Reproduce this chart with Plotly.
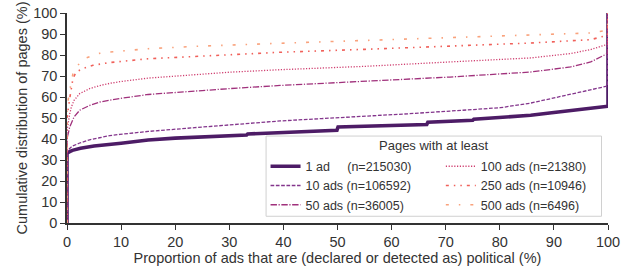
import plotly.graph_objects as go

NB = "\u00a0"
series_names = [
    "1 ad" + NB * 5 + "(n=215030)",
    "10 ads (n=106592)",
    "50 ads (n=36005)",
    "100 ads (n=21380)",
    "250 ads (n=10946)",
    "500 ads (n=6496)",
]
legend_title = "Pages with at least"

x_1 = [0, 0, 0.5, 1, 2.5, 5, 10, 15, 20, 25, 30, 33.2, 33.4, 40, 45, 49.9, 50.1, 55, 60, 66.5, 66.7, 70, 75, 75.2, 80, 85.7, 90, 95, 99.9, 100, 100]
y_1 = [0, 33.3, 34.0, 34.6, 35.6, 36.7, 38.0, 39.5, 40.4, 41.1, 41.6, 41.9, 42.4, 43.0, 43.6, 44.2, 45.7, 46.1, 46.4, 46.9, 48.0, 48.3, 48.9, 49.4, 50.3, 51.3, 52.6, 54.2, 55.6, 55.6, 100]

x_10 = [0, 0, 0.5, 1, 2.35, 4, 6, 7.9, 9.75, 15, 23.6, 30, 39.4, 47, 55.1, 63, 70.8, 80.1, 85.7, 89.4, 93.1, 96.8, 99.9, 100]
y_10 = [0, 33.8, 35.5, 36.6, 38.1, 39.5, 40.6, 41.6, 42.2, 43.6, 45.4, 46.8, 48.6, 49.7, 50.8, 52.0, 53.3, 54.9, 57.1, 59.2, 61.3, 63.5, 65.2, 100]

x_50 = [0, 0, 0.5, 1.3, 2.35, 4.2, 6, 7.9, 9.75, 15, 23.6, 30, 39.4, 55.1, 70.8, 85.7, 93.1, 96.8, 99.9, 100]
y_50 = [0, 40, 45.7, 50.5, 53.7, 56.0, 57.6, 58.6, 59.3, 61.2, 62.9, 64.0, 65.5, 67.5, 69.5, 71.9, 74.3, 76.7, 80.7, 100]

x_100 = [0, 0, 0.5, 0.8, 1.3, 2.35, 4.2, 6, 7.9, 9.75, 15, 23.6, 30, 39.4, 55.1, 70.8, 85.7, 93.1, 96.8, 99.9, 100]
y_100 = [0, 44, 52.0, 55.2, 58.4, 61.6, 64.0, 65.4, 66.5, 67.3, 69.0, 70.7, 71.8, 73.0, 74.6, 76.7, 78.6, 80.7, 82.6, 85.1, 100]

x_250 = [0, 0, 0.5, 0.8, 1.1, 1.7, 2.9, 4.8, 7.9, 15, 23.6, 30, 39.4, 55.1, 70.8, 85.7, 96.8, 99.9, 100]
y_250 = [0, 50, 59.2, 64.8, 68.8, 71.9, 73.5, 75.1, 76.4, 78.2, 79.4, 80.3, 81.3, 82.7, 84.4, 85.7, 87.3, 89.4, 100]

x_500 = [0, 0, 0.5, 0.8, 1.1, 1.7, 3.2, 5.7, 7.9, 15, 23.6, 39.4, 55.1, 70.8, 85.7, 96.8, 99.9, 100]
y_500 = [0, 55, 63.2, 68.0, 71.1, 74.3, 78.3, 80.7, 81.4, 83.0, 84.1, 85.6, 87.0, 88.3, 89.4, 90.5, 91.8, 100]

x_ticks = [0, 10, 20, 30, 40, 50, 60, 70, 80, 90, 100]
y_ticks = [0, 10, 20, 30, 40, 50, 60, 70, 80, 90, 100]

xs = [x_1, x_10, x_50, x_100, x_250, x_500]
ys = [y_1, y_10, y_50, y_100, y_250, y_500]
colors = ["#4d1c66", "#83358c", "#a0317c", "#cf3f70", "#f0605a", "#f9a27c"]
widths = [3.6, 1.3, 1.3, 1.3, 1.6, 1.6]
dashes = ["solid", "3.7px,1.6px", "6.4px,1.6px,1.2px,1.6px", "1.2px,1.6px",
          "3px,5px,1.5px,5px,1.5px,5px", "3px,10px,1.5px,10px"]
legend_ids = ["legend", "legend", "legend", "legend2", "legend2", "legend2"]

fig = go.Figure()
for i in range(6):
    fig.add_trace(go.Scatter(
        x=xs[i], y=ys[i], mode="lines", name=series_names[i],
        line=dict(color=colors[i], width=widths[i], dash=dashes[i]),
        cliponaxis=False, legend=legend_ids[i],
    ))

font_family = "Liberation Sans, Arial, sans-serif"
leg_common = dict(
    orientation="v", yanchor="top", xanchor="left",
    bgcolor="rgba(0,0,0,0)", borderwidth=0,
    font=dict(size=12.5, color="#333333"),
    tracegroupgap=0, traceorder="normal",
)
fig.update_layout(
    width=627, height=268,
    margin=dict(l=67, r=19, t=13, b=45, autoexpand=False),
    paper_bgcolor="white", plot_bgcolor="white",
    font=dict(family=font_family, size=14.5, color="#333333"),
    showlegend=True,
    legend=dict(x=0.367, y=0.34, **leg_common),
    legend2=dict(x=0.691, y=0.34, **leg_common),
    shapes=[dict(type="rect", xref="paper", yref="paper",
                 x0=0.368, x1=0.988, y0=0.032, y1=0.414,
                 line=dict(color="#d0d0d0", width=1), fillcolor="white", layer="above")],
    annotations=[dict(text=legend_title, xref="paper", yref="paper", x=0.678, y=0.367,
                      xanchor="center", yanchor="middle", showarrow=False,
                      font=dict(size=13, color="#333333"))],
    xaxis=dict(
        range=[0, 100], tickmode="array", tickvals=x_ticks,
        ticktext=[str(t) for t in x_ticks],
        showgrid=False, zeroline=False, automargin=False,
        showline=True, linecolor="#333333", linewidth=1.5,
        ticks="outside", ticklen=5, tickwidth=1.2, tickcolor="#333333",
        title=dict(text="Proportion of ads that are (declared or detected as) political (%)",
                   font=dict(size=14.5), standoff=3),
        layer="below traces",
    ),
    yaxis=dict(
        range=[0, 100], tickmode="array", tickvals=y_ticks,
        ticktext=[str(t) for t in y_ticks],
        showgrid=False, zeroline=False, automargin=False,
        showline=True, linecolor="#333333", linewidth=1.5,
        ticks="outside", ticklen=5, tickwidth=1.2, tickcolor="#333333",
        title=dict(text="Cumulative distribution of pages (%)", font=dict(size=14.5), standoff=2),
        layer="below traces",
    ),
)

fig.write_html("out.html", config={"displayModeBar": False},
               post_script="document.body.style.margin='0';")
